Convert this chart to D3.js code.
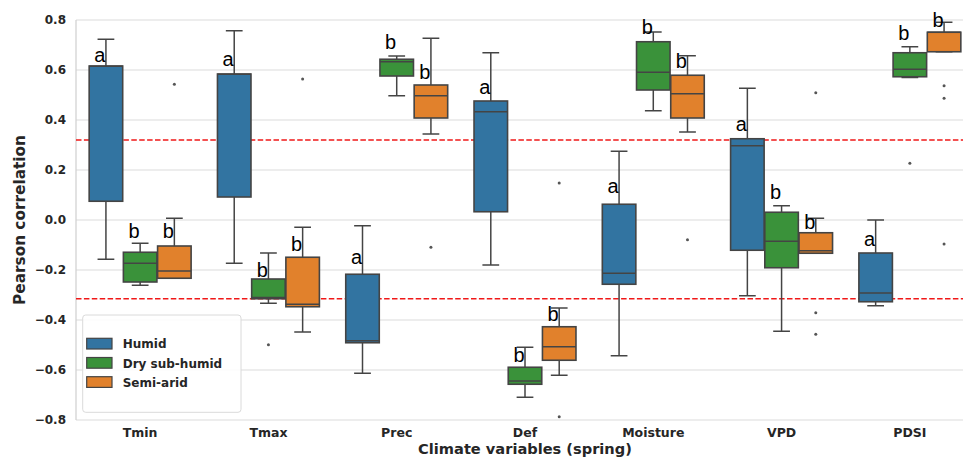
<!DOCTYPE html>
<html>
<head>
<meta charset="utf-8">
<script src="https://cdn.jsdelivr.net/npm/d3@7"></script>
<style>
  html, body { margin: 0; padding: 0; background: #fff; }
  svg { display: block; }
</style>
</head>
<body>
<svg id="chart" width="963" height="457"></svg>
<script>
// ---------------- data ----------------
const categories = ["Tmin", "Tmax", "Prec", "Def", "Moisture", "VPD", "PDSI"];
const seriesNames = ["Humid", "Dry sub-humid", "Semi-arid"];
const seriesColors = ["#3274a1", "#3a923a", "#e1812c"];

// [lowerWhisker, q1, median, q3, upperWhisker] per category
const humidStats = [
  [-0.157, 0.075, 0.615, 0.616, 0.723],
  [-0.173, 0.092, 0.583, 0.584, 0.757],
  [-0.613, -0.491, -0.483, -0.217, -0.023],
  [-0.180, 0.033, 0.433, 0.476, 0.669],
  [-0.543, -0.257, -0.213, 0.063, 0.275],
  [-0.303, -0.121, 0.297, 0.325, 0.527],
  [-0.343, -0.327, -0.292, -0.132, 0.000]
];
const drySubHumidStats = [
  [-0.261, -0.248, -0.173, -0.129, -0.093],
  [-0.333, -0.315, -0.310, -0.236, -0.132],
  [0.497, 0.576, 0.633, 0.643, 0.656],
  [-0.709, -0.657, -0.644, -0.589, -0.509],
  [0.437, 0.520, 0.591, 0.713, 0.752],
  [-0.445, -0.191, -0.085, 0.031, 0.057],
  [0.570, 0.573, 0.603, 0.669, 0.693]
];
const semiAridStats = [
  [-0.233, -0.233, -0.204, -0.104, 0.007],
  [-0.448, -0.347, -0.337, -0.149, -0.029],
  [0.344, 0.408, 0.497, 0.540, 0.727],
  [-0.621, -0.561, -0.507, -0.427, -0.352],
  [0.352, 0.408, 0.505, 0.579, 0.657],
  [-0.133, -0.133, -0.123, -0.051, 0.007],
  [0.673, 0.673, 0.751, 0.751, 0.791]
];

// outliers per category
const humidOutliers = [[], [], [], [], [], [], []];
const drySubHumidOutliers = [[], [-0.499], [], [], [], [], [0.227]];
const semiAridOutliers = [[0.543], [0.564], [-0.109], [0.148, -0.787], [-0.079], [0.509, -0.371, -0.457], [0.537, 0.487, -0.096]];

// significance letters and their baseline value
const humidLetters = ["a", "a", "a", "a", "a", "a", "a"];
const humidLetterY = [0.633, 0.617, -0.176, 0.503, 0.107, 0.356, -0.104];
const drySubHumidLetters = ["b", "b", "b", "b", "b", "b", "b"];
const drySubHumidLetterY = [-0.073, -0.229, 0.684, -0.569, 0.744, 0.084, 0.720];
const semiAridLetters = ["b", "b", "b", "b", "b", "b", "b"];
const semiAridLetterY = [-0.073, -0.124, 0.563, -0.404, 0.607, -0.037, 0.771];

const yTicks = [-0.8, -0.6, -0.4, -0.2, 0.0, 0.2, 0.4, 0.6, 0.8];
const thresholds = [0.32, -0.315];

const yLabel = "Pearson correlation";
const xLabel = "Climate variables (spring)";

// ---------------- layout ----------------
const svg = d3.select("#chart");
const plot = { left: 76, right: 974, top: 20, bottom: 420 };
const edge = "#444444";
const grid = "#dcdcdc";

const x = d3.scaleBand().domain(categories).range([plot.left, plot.right]).paddingInner(0).paddingOuter(0);
const hue = d3.scaleBand().domain(seriesNames)
  .range([x.bandwidth() * 0.1, x.bandwidth() * 0.9]);
const y = d3.scaleLinear().domain([-0.8, 0.8]).range([plot.bottom, plot.top]);

const clipId = "plotclip";
svg.append("defs").append("clipPath").attr("id", clipId)
  .append("rect").attr("x", plot.left).attr("y", plot.top - 5)
  .attr("width", plot.right - plot.left).attr("height", plot.bottom - plot.top + 10);

// grid
svg.append("g").selectAll("line").data(yTicks).join("line")
  .attr("x1", plot.left).attr("x2", plot.right)
  .attr("y1", d => y(d)).attr("y2", d => y(d))
  .attr("stroke", grid).attr("stroke-width", 1.1);

// left spine
svg.append("line").attr("x1", plot.left).attr("x2", plot.left)
  .attr("y1", plot.top).attr("y2", plot.bottom)
  .attr("stroke", "#cfcfcf").attr("stroke-width", 1.2);

// y axis
const yAxis = d3.axisLeft(y).tickValues(yTicks).tickSize(0).tickPadding(10)
  .tickFormat(d3.format(".1f"));
const yg = svg.append("g").attr("transform", `translate(${plot.left},0)`).call(yAxis);
yg.select(".domain").remove();
yg.selectAll("text").attr("font-family", "DejaVu Sans").attr("font-weight", "bold")
  .attr("font-size", "12px").attr("fill", "#262626");

// x axis
const xAxis = d3.axisBottom(x).tickSize(0).tickPadding(8);
const xg = svg.append("g").attr("transform", `translate(0,${plot.bottom})`).call(xAxis);
xg.select(".domain").remove();
xg.selectAll("text").attr("font-family", "DejaVu Sans").attr("font-weight", "bold")
  .attr("font-size", "12.5px").attr("fill", "#262626");

// axis titles
svg.append("text")
  .attr("transform", `translate(25,${(plot.top + plot.bottom) / 2}) rotate(-90)`)
  .attr("text-anchor", "middle")
  .attr("font-family", "DejaVu Sans").attr("font-weight", "bold").attr("font-size", "15.3px")
  .attr("fill", "#262626").text(yLabel);
svg.append("text")
  .attr("x", 525).attr("y", 453.5)
  .attr("text-anchor", "middle")
  .attr("font-family", "DejaVu Sans").attr("font-weight", "bold").attr("font-size", "14.6px")
  .attr("fill", "#262626").text(xLabel);

// threshold lines
svg.append("g").selectAll("line").data(thresholds).join("line")
  .attr("x1", plot.left).attr("x2", plot.right)
  .attr("y1", d => y(d)).attr("y2", d => y(d))
  .attr("stroke", "#f01818").attr("stroke-width", 1.5)
  .attr("stroke-dasharray", "5.5,2.4");

// boxes
const allStats = [humidStats, drySubHumidStats, semiAridStats];
const allOutliers = [humidOutliers, drySubHumidOutliers, semiAridOutliers];
const allLetters = [humidLetters, drySubHumidLetters, semiAridLetters];
const allLetterY = [humidLetterY, drySubHumidLetterY, semiAridLetterY];

const boxes = [];
seriesNames.forEach((s, si) => {
  categories.forEach((c, ci) => {
    const st = allStats[si][ci];
    boxes.push({
      s, si, c,
      lo: st[0], q1: st[1], med: st[2], q3: st[3], hi: st[4],
      out: allOutliers[si][ci],
      letter: allLetters[si][ci], letterY: allLetterY[si][ci]
    });
  });
});

const bw = hue.bandwidth() * 0.98;
const cx = d => x(d.c) + hue(d.s) + hue.bandwidth() / 2;

const bg = svg.append("g").attr("clip-path", `url(#${clipId})`);
const g = bg.selectAll("g.box").data(boxes).join("g").attr("class", "box");

// whiskers
g.append("line").attr("x1", cx).attr("x2", cx)
  .attr("y1", d => y(d.q3)).attr("y2", d => y(d.hi))
  .attr("stroke", edge).attr("stroke-width", 1.5);
g.append("line").attr("x1", cx).attr("x2", cx)
  .attr("y1", d => y(d.q1)).attr("y2", d => y(d.lo))
  .attr("stroke", edge).attr("stroke-width", 1.5);
// caps
g.append("line").attr("x1", d => cx(d) - bw / 4).attr("x2", d => cx(d) + bw / 4)
  .attr("y1", d => y(d.hi)).attr("y2", d => y(d.hi))
  .attr("stroke", edge).attr("stroke-width", 1.5);
g.append("line").attr("x1", d => cx(d) - bw / 4).attr("x2", d => cx(d) + bw / 4)
  .attr("y1", d => y(d.lo)).attr("y2", d => y(d.lo))
  .attr("stroke", edge).attr("stroke-width", 1.5);
// box
g.append("rect")
  .attr("x", d => cx(d) - bw / 2).attr("width", bw)
  .attr("y", d => y(d.q3)).attr("height", d => Math.max(0.5, y(d.q1) - y(d.q3)))
  .attr("fill", d => seriesColors[d.si]).attr("stroke", edge).attr("stroke-width", 1.6);
// median
g.append("line").attr("x1", d => cx(d) - bw / 2).attr("x2", d => cx(d) + bw / 2)
  .attr("y1", d => y(d.med)).attr("y2", d => y(d.med))
  .attr("stroke", edge).attr("stroke-width", 1.6);
// outliers
g.selectAll("circle").data(d => d.out.map(v => ({ v, d }))).join("circle")
  .attr("cx", o => cx(o.d)).attr("cy", o => y(o.v)).attr("r", 1.5)
  .attr("fill", "#555");

// letters
svg.append("g").selectAll("text").data(boxes).join("text")
  .attr("x", d => cx(d) - 0.5).attr("y", d => y(d.letterY))
  .attr("text-anchor", "end")
  .attr("font-family", "Liberation Sans, Arial, sans-serif").attr("font-size", "20px")
  .attr("fill", "#000").text(d => d.letter);

// legend
const lg = svg.append("g");
lg.append("rect").attr("x", 82.7).attr("y", 315).attr("width", 158.3).attr("height", 97.3)
  .attr("rx", 3).attr("fill", "#fff").attr("fill-opacity", 0.85)
  .attr("stroke", "#dadada").attr("stroke-width", 1);
const items = lg.selectAll("g.item").data(seriesNames).join("g").attr("class", "item")
  .attr("transform", (d, i) => `translate(86.7,${338.3 + i * 19.2})`);
items.append("rect").attr("width", 25.3).attr("height", 10.7)
  .attr("fill", (d, i) => seriesColors[i]).attr("stroke", edge).attr("stroke-width", 1.2);
items.append("text").attr("x", 36).attr("y", 10)
  .attr("font-family", "DejaVu Sans").attr("font-weight", "bold").attr("font-size", "12px")
  .attr("fill", "#262626").text(d => d);
</script>
</body>
</html>
